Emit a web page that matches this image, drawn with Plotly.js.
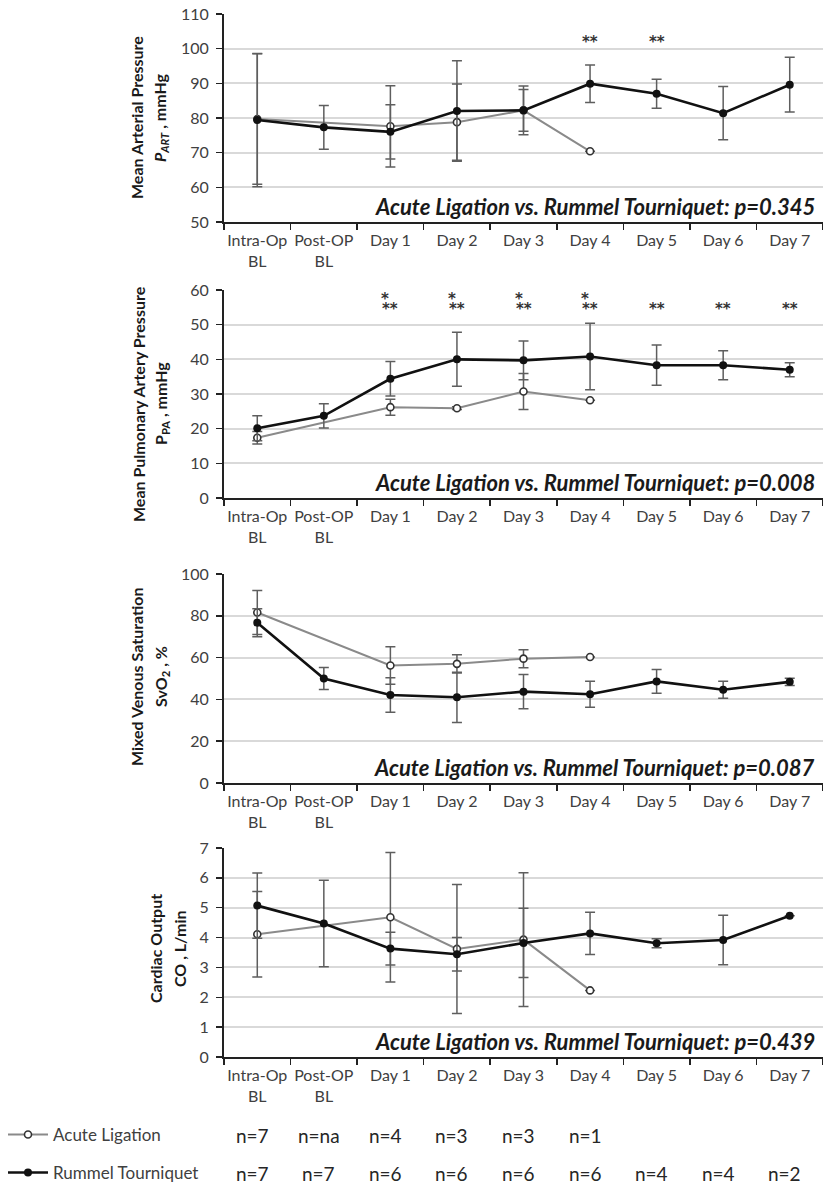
<!DOCTYPE html>
<html>
<head>
<meta charset="utf-8">
<script src="https://cdn.plot.ly/plotly-3.0.1.min.js"></script>
<style>html,body{margin:0;padding:0;background:#fff;}#chart{width:823px;height:1186px;}</style>
</head>
<body>
<div id="chart"></div>
<script>
// ---------- data ----------
const categories = ["Intra-Op<br>BL","Post-OP<br>BL","Day 1","Day 2","Day 3","Day 4","Day 5","Day 6","Day 7"];

const acuteMAP      = [79.7, null, 77.6, 78.8, 82.2, 70.4, null, null, null];
const acuteMAPerr   = [18.8, null, 11.7, 11.0, 6.0, null, null, null, null];
const rummelMAP     = [79.4, 77.3, 76.0, 82.0, 82.2, 89.9, 87.0, 81.4, 89.6];
const rummelMAPerr  = [19.2, 6.3, 7.8, 14.5, 7.0, 5.4, 4.2, 7.7, 7.9];

const acutePAP      = [17.4, null, 26.2, 25.9, 30.7, 28.2, null, null, null];
const acutePAPerr   = [1.8, null, 2.3, 0.4, 5.2, null, null, null, null];
const rummelPAP     = [20.1, 23.7, 34.4, 40.0, 39.7, 40.8, 38.3, 38.3, 37.0];
const rummelPAPerr  = [3.6, 3.5, 5.0, 7.8, 5.6, 9.6, 5.8, 4.2, 2.0];

const acuteSvO2     = [81.6, null, 56.2, 57.0, 59.5, 60.3, null, null, null];
const acuteSvO2err  = [10.5, null, 9.0, 4.4, 4.3, null, null, null, null];
const rummelSvO2    = [76.7, 50.0, 42.1, 41.0, 43.7, 42.5, 48.6, 44.6, 48.4];
const rummelSvO2err = [6.7, 5.3, 8.2, 12.0, 8.2, 6.2, 5.7, 4.1, 1.7];

const acuteCO       = [4.11, null, 4.68, 3.62, 3.93, 2.23, null, null, null];
const acuteCOerr    = [1.43, null, 2.17, 2.16, 2.24, null, null, null, null];
const rummelCO      = [5.07, 4.47, 3.63, 3.44, 3.82, 4.14, 3.81, 3.92, 4.73];
const rummelCOerr   = [1.09, 1.45, 0.55, 0.56, 1.16, 0.71, 0.15, 0.83, null];

const sigMAP    = ["", "", "", "", "", "**", "**", "", ""];
const sigPAPtop = ["", "", "*", "*", "*", "*", "", "", ""];
const sigPAP    = ["", "", "**", "**", "**", "**", "**", "**", "**"];

const nAcute  = ["n=7", "n=na", "n=4", "n=3", "n=3", "n=1", "", "", ""];
const nRummel = ["n=7", "n=7", "n=6", "n=6", "n=6", "n=6", "n=4", "n=4", "n=2"];

const pValues = ["0.345", "0.008", "0.087", "0.439"];
const seriesNames = ["Acute Ligation", "Rummel Tourniquet"];

// ---------- geometry helpers ----------
const W = 823, H = 1186, L = 224, R = 0;
const PW = W - L - R;
const px = x => (x - L) / PW;
const py = y => 1 - y / H;

const FONT = "Lato, 'Open Sans', sans-serif";
const panels = [
  {acute: acuteMAP, acuteErr: acuteMAPerr, rummel: rummelMAP, rummelErr: rummelMAPerr,
   range: [50, 110], dtick: 10, top: 14, bottom: 222,
   t1: "Mean Arterial Pressure", t2: "<i>P<sub>ART</sub></i> , mmHg", tx1: 136, tx2: 160, ty: 118},
  {acute: acutePAP, acuteErr: acutePAPerr, rummel: rummelPAP, rummelErr: rummelPAPerr,
   range: [0, 60], dtick: 10, top: 290, bottom: 498,
   t1: "Mean Pulmonary Artery Pressure", t2: "P<sub>PA</sub> , mmHg", tx1: 138, tx2: 161, ty: 404},
  {acute: acuteSvO2, acuteErr: acuteSvO2err, rummel: rummelSvO2, rummelErr: rummelSvO2err,
   range: [0, 100], dtick: 20, top: 574, bottom: 783,
   t1: "Mixed Venous Saturation", t2: "SvO<sub>2</sub> , %", tx1: 136, tx2: 161, ty: 677},
  {acute: acuteCO, acuteErr: acuteCOerr, rummel: rummelCO, rummelErr: rummelCOerr,
   range: [0, 7], dtick: 1, top: 848, bottom: 1057,
   t1: "Cardiac Output", t2: "CO , L/min", tx1: 155, tx2: 179, ty: 949}
];

const traces = [];
const annotations = [];
const legendBase = {xanchor: "left", yanchor: "middle", bgcolor: "rgba(0,0,0,0)", itemwidth: 40,
  font: {family: FONT, size: 17, color: "#404040"}};
const layout = {
  width: W, height: H,
  margin: {l: L, r: R, t: 0, b: 0, autoexpand: false},
  paper_bgcolor: "#ffffff", plot_bgcolor: "#ffffff",
  font: {family: FONT, color: "#404040"},
  showlegend: true,
  legend: Object.assign({x: px(3), y: py(1135)}, legendBase),
  legend2: Object.assign({x: px(3), y: py(1173)}, legendBase),
  annotations: annotations
};

panels.forEach((p, i) => {
  const k = i + 1;
  const xa = "x" + (k === 1 ? "" : k), ya = "y" + (k === 1 ? "" : k);
  traces.push({
    type: "scatter", mode: "lines+markers", name: seriesNames[0],
    x: categories, y: p.acute, connectgaps: true,
    xaxis: xa, yaxis: ya, legend: "legend", showlegend: k === 1,
    line: {color: "#8a8a8a", width: 2},
    marker: {symbol: "circle", size: 7, color: "#ffffff", line: {color: "#333333", width: 1.6}},
    error_y: {type: "data", array: p.acuteErr, visible: true, color: "#5e5e5e", thickness: 1.5, width: 5}
  });
  traces.push({
    type: "scatter", mode: "lines+markers", name: seriesNames[1],
    x: categories, y: p.rummel,
    xaxis: xa, yaxis: ya, legend: "legend2", showlegend: k === 1,
    line: {color: "#111111", width: 2.6},
    marker: {symbol: "circle", size: 8, color: "#111111"},
    error_y: {type: "data", array: p.rummelErr, visible: true, color: "#5e5e5e", thickness: 1.5, width: 5}
  });

  layout["xaxis" + (k === 1 ? "" : k)] = {
    domain: [0, 1], anchor: ya, type: "category",
    categoryorder: "array", categoryarray: categories, range: [-0.5, 8.5],
    tickson: "boundaries", ticks: "outside", ticklen: 6, tickwidth: 1.5, tickcolor: "#222",
    ticklabelstandoff: 3, tickangle: 0,
    showline: true, linecolor: "#222", linewidth: 2, showgrid: false, zeroline: false,
    tickfont: {family: FONT, size: 16, color: "#404040"}, fixedrange: true
  };
  layout["yaxis" + (k === 1 ? "" : k)] = {
    domain: [py(p.bottom), py(p.top)], anchor: xa, range: p.range, dtick: p.dtick,
    ticks: "outside", ticklen: 6, tickwidth: 1.5, tickcolor: "#222",
    ticklabelstandoff: 4,
    showline: true, linecolor: "#222", linewidth: 2,
    showgrid: true, gridcolor: "#d9d9d9", gridwidth: 2, zeroline: false,
    tickfont: {family: FONT, size: 16, color: "#404040"}, fixedrange: true
  };

  // p-value text (placed 16 px above the x axis)
  annotations.push({
    xref: "paper", yref: "paper", x: px(817), y: py(p.bottom - 16), xanchor: "right", yanchor: "middle",
    text: "<b><i>" + seriesNames[0] + " vs. " + seriesNames[1] + ": p=" + pValues[i] + "</i></b>",
    showarrow: false, font: {family: FONT, size: 22, color: "#1a1a1a"}
  });
  // y titles
  annotations.push({
    xref: "paper", yref: "paper", x: px(p.tx1), y: py(p.ty), xanchor: "center", yanchor: "middle",
    textangle: -90, text: "<b>" + p.t1 + "</b>", showarrow: false,
    font: {family: FONT, size: 16, color: "#1a1a1a"}
  });
  annotations.push({
    xref: "paper", yref: "paper", x: px(p.tx2), y: py(p.ty), xanchor: "center", yanchor: "middle",
    textangle: -90, text: "<b>" + p.t2 + "</b>", showarrow: false,
    font: {family: FONT, size: 16, color: "#1a1a1a"}
  });
});

// significance markers
const starFont = {family: "'DejaVu Sans', sans-serif", size: 15, color: "#333333", weight: "bold"};
categories.forEach((c, j) => {
  if (sigMAP[j]) annotations.push({xref: "x", yref: "y", x: c, y: 103.2, yshift: -4, text: sigMAP[j],
    showarrow: false, font: starFont});
  if (sigPAPtop[j]) annotations.push({xref: "x2", yref: "y2", x: c, y: 58.3, xshift: -5, yshift: -3, text: sigPAPtop[j],
    showarrow: false, font: starFont});
  if (sigPAP[j]) annotations.push({xref: "x2", yref: "y2", x: c, y: 55.6, yshift: -4, text: sigPAP[j],
    showarrow: false, font: starFont});
  if (nAcute[j]) annotations.push({xref: "x4", yref: "paper", x: c, y: py(1135), xshift: -5, yanchor: "middle",
    text: nAcute[j], showarrow: false, font: {family: FONT, size: 19, color: "#262626"}});
  if (nRummel[j]) annotations.push({xref: "x4", yref: "paper", x: c, y: py(1173), xshift: -5, yanchor: "middle",
    text: nRummel[j], showarrow: false, font: {family: FONT, size: 19, color: "#262626"}});
});

Plotly.newPlot("chart", traces, layout, {staticPlot: true, displayModeBar: false});
</script>
</body>
</html>
